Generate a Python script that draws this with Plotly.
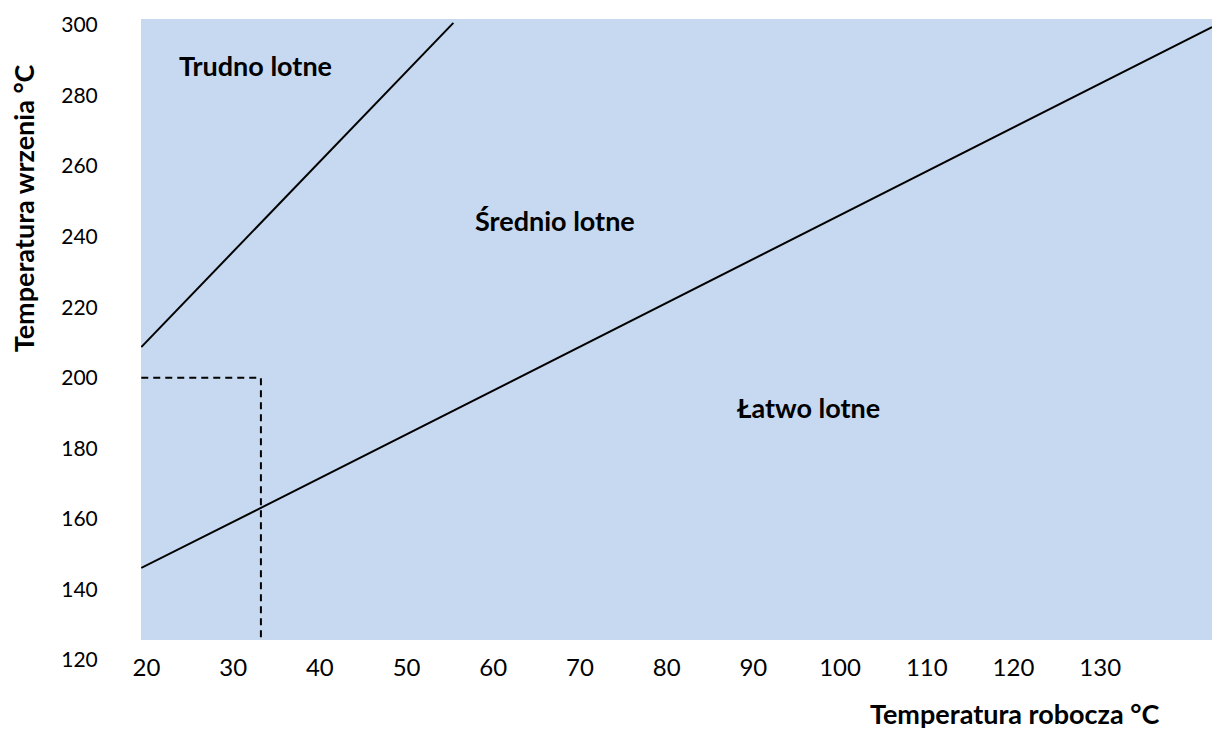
import plotly.graph_objects as go

# Data
x_ticks = [20, 30, 40, 50, 60, 70, 80, 90, 100, 110, 120, 130]
y_ticks = [120, 140, 160, 180, 200, 220, 240, 260, 280, 300]

# lower boundary: łatwo / średnio lotne
low_x = [19.4, 33.2, 142.9]
low_y = [146.1, 163.1, 299.4]
# upper boundary: średnio / trudno lotne
high_x = [19.4, 55.4]
high_y = [208.7, 300.6]
# example reading (dashed)
dash_x = [19.4, 33.2, 33.2]
dash_y = [200.0, 200.0, 125.7]

region_x = [19.37, 142.9]
region_y = [125.7, 301.7]

labels = ["Trudno lotne", "Średnio lotne", "Łatwo lotne"]
label_x = [32.6, 67.1, 96.4]
label_y = [288.4, 244.7, 191.7]

FONT = "Lato"

fig = go.Figure()
fig.add_shape(type="rect", xref="x", yref="y",
              x0=region_x[0], x1=region_x[1], y0=region_y[0], y1=region_y[1],
              fillcolor="#C6D9F0", line=dict(width=0), layer="below")

line_style = dict(color="black", width=2)
fig.add_trace(go.Scatter(x=low_x, y=low_y, mode="lines", line=line_style,
                         hoverinfo="skip", showlegend=False))
fig.add_trace(go.Scatter(x=high_x, y=high_y, mode="lines", line=line_style,
                         hoverinfo="skip", showlegend=False))
fig.add_trace(go.Scatter(x=dash_x, y=dash_y, mode="lines",
                         line=dict(color="black", width=2, dash="7px,5px"),
                         hoverinfo="skip", showlegend=False))

for t, lx, ly in zip(labels, label_x, label_y):
    fig.add_annotation(x=lx, y=ly, xref="x", yref="y", text="<b>%s</b>" % t,
                       showarrow=False, xanchor="center", yanchor="middle",
                       font=dict(family=FONT, size=27, color="black"))

fig.add_annotation(x=-0.110, y=0.705, xref="paper", yref="paper",
                   xanchor="center", yanchor="middle",
                   text="<b>Temperatura wrzenia °C</b>", textangle=-90, showarrow=False,
                   font=dict(family=FONT, size=27, color="black"))
fig.add_annotation(x=0.816, y=-0.083, xref="paper", yref="paper",
                   xanchor="center", yanchor="middle",
                   text="<b>Temperatura robocza °C</b>", showarrow=False,
                   font=dict(family=FONT, size=27, color="black"))

fig.update_layout(
    width=1212, height=729,
    margin=dict(l=141, r=0, t=19, b=69),
    paper_bgcolor="white", plot_bgcolor="white",
    showlegend=False,
    xaxis=dict(range=[region_x[0], region_x[1]], tickvals=x_ticks,
               showgrid=False, zeroline=False, showline=False,
               ticks="outside", ticklen=2, tickcolor="rgba(0,0,0,0)",
               anchor="free", position=0.025,
               tickfont=dict(family=FONT, size=24, color="black")),
    yaxis=dict(range=[120, region_y[1]], tickvals=y_ticks,
               showgrid=False, zeroline=False, showline=False,
               ticks="outside", ticklen=38, tickcolor="rgba(0,0,0,0)",
               tickfont=dict(family=FONT, size=21, color="black")),
)

fig.write_html("out.html",
               config={"displayModeBar": False},
               post_script="document.body.style.margin='0';"
                           "document.body.style.overflow='hidden';")
